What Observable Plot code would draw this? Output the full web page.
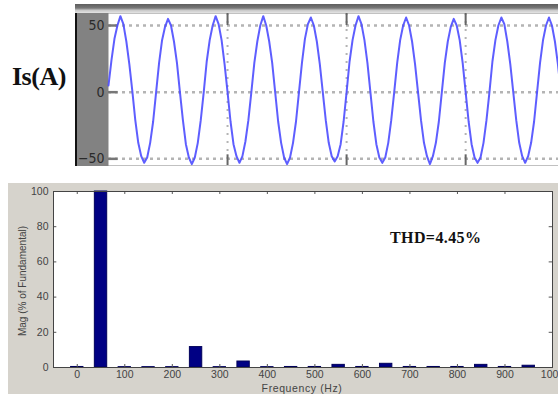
<!DOCTYPE html>
<html><head><meta charset="utf-8">
<script src="https://cdn.jsdelivr.net/npm/d3@7"></script>
<script src="https://cdn.jsdelivr.net/npm/@observablehq/plot@0.6"></script>
<style>
body{margin:0;background:#fff;}
#wrap{position:relative;width:558px;height:394px;overflow:hidden;background:#fff;}
#scope{position:absolute;left:75px;top:4px;width:483px;height:162px;background:#828282;border-left:2px solid #111;box-sizing:border-box;}
#scopeTop{position:absolute;left:75px;top:4px;width:483px;height:9px;background:linear-gradient(#5e5e5e,#777 45%,#c9c9c9 70%,#e4e4e4);}
#isLabel{position:absolute;left:12px;top:62px;font:bold 26px "Liberation Serif","Times New Roman",serif;color:#111;letter-spacing:-0.5px;}
#fftBg{position:absolute;left:8px;top:183px;width:550px;height:211px;background:#d6d3cc;}
#ylab{position:absolute;left:22px;top:281px;transform:translate(-50%,-50%) rotate(-90deg);white-space:nowrap;font:10px "Liberation Sans",Arial,sans-serif;color:#444;}
#xlab{position:absolute;left:302px;top:388px;transform:translate(-50%,-50%);white-space:nowrap;font:10.5px "Liberation Sans",Arial,sans-serif;color:#444;letter-spacing:0.6px;}
#thd{position:absolute;left:390px;top:229px;font:bold 16px "Liberation Serif","Times New Roman",serif;color:#111;letter-spacing:0.4px;}
.p{position:absolute;left:0;}
</style></head><body>
<div id="wrap">
  <div id="scope"></div>
  <div id="scopeTop"></div>
  <div id="isLabel">Is(A)</div>
  <div id="fftBg"></div>
</div>
<script>
// ---- Top: source current waveform Is(A), sampled every 1.25 ms ----
const isStepMs = 1.25;
const isValues = [
  5, 24, 40, 50, 57, 51, 38, 21, 1, -21, -38, -48, -53, -49, -38, -22,
  0, 22, 39, 49, 55, 50, 38, 22, 0, -21, -39, -49, -54, -49, -38, -21,
  0, 23, 39, 50, 57, 51, 39, 21, 0, -22, -39, -48, -53, -48, -37, -21,
  0, 22, 38, 50, 57, 50, 38, 22, 0, -22, -38, -49, -54, -49, -38, -22,
  0, 22, 40, 51, 56, 50, 38, 21, 0, -21, -38, -48, -52, -48, -39, -22,
  0, 23, 39, 50, 57, 51, 39, 22, 0, -22, -39, -49, -53, -49, -38, -21,
  0, 22, 39, 50, 56, 50, 38, 21, 0, -21, -38, -48, -54, -48, -38, -22,
  0, 22, 38, 49, 55, 50, 39, 22, 0, -22, -39, -49, -53, -49, -38, -21,
  0, 23, 39, 50, 56, 51, 38, 21, 0, -21, -38, -48, -53, -48, -38, -22,
  0, 22, 39, 50, 56, 50, 38, 21, 0
];
const scopeTicksY = [50, 0, -50];
const scopeGridX = [50, 100, 150];   // ms

// ---- Bottom: FFT spectrum ----
const harmonicFreq = [0, 50, 100, 150, 200, 250, 300, 350, 400, 450, 500, 550, 600, 650, 700, 750, 800, 850, 900, 950];
const harmonicMag  = [0.3, 100, 0.2, 0.2, 0.2, 11.6, 0.2, 3.4, 0.2, 0.3, 0.3, 1.5, 0.3, 2.1, 0.3, 0.3, 0.3, 1.5, 0.3, 1.0];
const freqTicks = [0, 100, 200, 300, 400, 500, 600, 700, 800, 900, 1000];
const magTicks = [0, 20, 40, 60, 80, 100];
const yLabel = "Mag (% of Fundamental)";
const xLabel = "Frequency (Hz)";
const thdLabel = "THD=4.45%";

const wrap = document.getElementById("wrap");

const wave = isValues.map((v, i) => ({t: i * isStepMs, v}));
const topPlot = Plot.plot({
  width: 558, height: 170,
  marginLeft: 108, marginRight: 0, marginTop: 13, marginBottom: 5,
  x: {domain: [0, 189], axis: null},
  y: {domain: [-55, 59], axis: null},
  style: {background: "transparent", overflow: "visible"},
  marks: [
    Plot.frame({fill: "white", stroke: null}),
    Plot.ruleY(scopeTicksY, {stroke: "#b4b4b4", strokeWidth: 2.5, strokeDasharray: "3,4"}),
    Plot.ruleX(scopeGridX, {stroke: "#b4b4b4", strokeWidth: 2, strokeDasharray: "2,6"}),
    Plot.ruleX(scopeGridX, {y1: 59, y2: 50, stroke: "#666", strokeWidth: 2}),
    Plot.ruleX(scopeGridX, {y1: -55, y2: -47, stroke: "#666", strokeWidth: 2}),
    Plot.ruleY(scopeTicksY, {x1: 0, x2: 4, stroke: "#777", strokeWidth: 2.5}),
    Plot.line(wave, {x: "t", y: "v", stroke: "#4d4dff", strokeWidth: 2, strokeOpacity: 0.9}),
    Plot.axisY(scopeTicksY, {anchor: "left", tickSize: 0, tickPadding: 4, fontSize: 14, fill: "#2a2a2a",
      fontFamily: "'Liberation Sans Narrow','DejaVu Sans Condensed',sans-serif", label: null})
  ]
});
topPlot.classList.add("p");
topPlot.style.top = "0px";
wrap.appendChild(topPlot);

const bars = harmonicFreq.map((f, i) => ({f, m: harmonicMag[i]}));
const fftPlot = Plot.plot({
  width: 558, height: 211,
  marginLeft: 53, marginRight: 6, marginTop: 8, marginBottom: 27,
  x: {domain: [-50, 1000], axis: null},
  y: {domain: [0, 100], axis: null},
  style: {background: "transparent", overflow: "visible"},
  marks: [
    Plot.frame({fill: "white", stroke: null}),
    Plot.rectY(bars, {x1: d => d.f - 13, x2: d => d.f + 13, y: "m", fill: "#000084", stroke: "#00005a", strokeWidth: 1}),
    Plot.ruleX(freqTicks, {y1: 100, y2: 98.3, stroke: "#555"}),
    Plot.ruleX(freqTicks, {y1: 0, y2: 1.7, stroke: "#555"}),
    Plot.ruleY(magTicks, {x1: -50, x2: -43, stroke: "#555"}),
    Plot.ruleY(magTicks, {x1: 1000, x2: 993, stroke: "#555"}),
    Plot.frame({stroke: "#444", strokeWidth: 1}),
    Plot.axisX(freqTicks, {anchor: "bottom", tickSize: 0, tickPadding: 3, fontSize: 10.5, fill: "#444",
      tickFormat: d => String(d), fontFamily: "'Liberation Sans',Arial,sans-serif", label: null}),
    Plot.axisY(magTicks, {anchor: "left", tickSize: 0, tickPadding: 5, fontSize: 10.5, fill: "#444",
      tickFormat: d => String(d), fontFamily: "'Liberation Sans',Arial,sans-serif", label: null})
  ]
});
fftPlot.classList.add("p");
fftPlot.style.top = "183px";
wrap.appendChild(fftPlot);

for (const [id, txt] of [["ylab", yLabel], ["xlab", xLabel], ["thd", thdLabel]]) {
  const d = document.createElement("div");
  d.id = id; d.textContent = txt;
  wrap.appendChild(d);
}
</script>
</body></html>
